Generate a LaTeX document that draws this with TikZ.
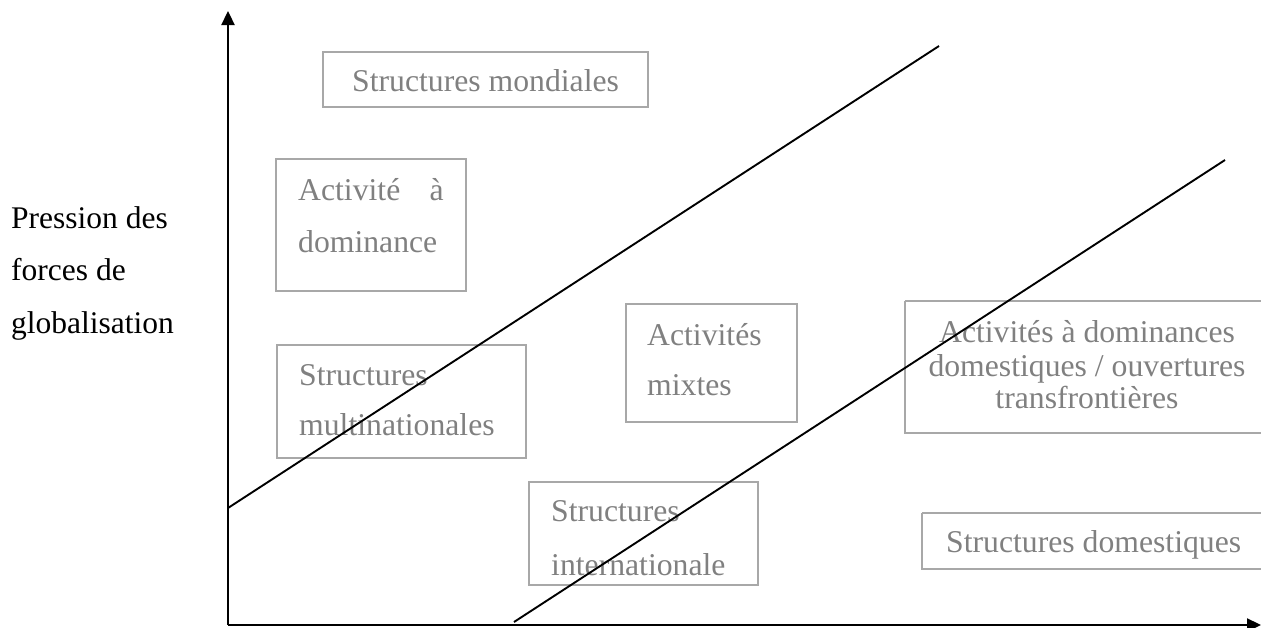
\documentclass[tikz,border=0pt]{standalone}
\usepackage{fontspec}
\setmainfont{Liberation Serif}
\usetikzlibrary{arrows.meta}
\definecolor{boxline}{HTML}{A8A8A8}
\definecolor{boxtext}{HTML}{808080}
\tikzset{
  framebox/.style={draw=boxline, line width=1.3pt, inner sep=0pt, rectangle},
  gtxt/.style={text=boxtext, inner sep=0pt, font=\fontsize{31.7}{33}\selectfont},
  btxt/.style={text=black, inner sep=0pt, font=\fontsize{31.5}{33}\selectfont},
  axisline/.style={line width=2.3pt, -{Triangle[length=14pt,width=13pt]}},
  diag/.style={line width=1.9pt}
}
\begin{document}
\begin{tikzpicture}[x=1pt,y=-1pt]
\useasboundingbox (0,0) rectangle (1261,627);
% boxes (corners)
\draw[framebox] (323,52) rectangle (648,107);
\node[inner sep=0pt] (bmond) at (485.5,79.5) {};
\draw[framebox] (276,159) rectangle (466,291);
\draw[framebox] (277,345) rectangle (526,458);
\draw[framebox] (626,304) rectangle (797,422);
\draw[framebox] (905,301) -- (1270,301) (905,301) -- (905,433) -- (1270,433);
\draw[framebox] (529,482) rectangle (758,585);
\draw[framebox] (922,513) -- (1270,513) (922,513) -- (922,569) -- (1270,569);
% texts
\node[gtxt, anchor=base west] (t1) at (352,91) {Structures mondiales};
\node[gtxt, anchor=base west] (t2a) at (298,200) {Activité};
\node[gtxt, anchor=base east] (t2b) at (444,200) {à};
\node[gtxt, anchor=base west] (t2c) at (298,252) {dominance};
\node[gtxt, anchor=base west] (t3a) at (299,385) {Structures};
\node[gtxt, anchor=base west] (t3b) at (299,435) {multinationales};
\node[gtxt, anchor=base west] (t4a) at (647,345) {Activités};
\node[gtxt, anchor=base west] (t4b) at (647,395) {mixtes};
\node[gtxt, anchor=base] (t5a) at (1087,342) {Activités à dominances};
\node[gtxt, anchor=base] (t5b) at (1087,376) {domestiques / ouvertures};
\node[gtxt, anchor=base] (t5c) at (1087,408) {transfrontières};
\node[gtxt, anchor=base west] (t6a) at (551,521) {Structures};
\node[gtxt, anchor=base west] (t6b) at (551,575) {internationale};
\node[gtxt, anchor=base west] (t7) at (946,552) {Structures domestiques};
% left label
\node[btxt, anchor=base west] (l1) at (11,228) {Pression des};
\node[btxt, anchor=base west] (l2) at (11,280) {forces de};
\node[btxt, anchor=base west] (l3) at (11,333) {globalisation};
% axes
\coordinate (o) at (228,625);
\coordinate (ytop) at (228,11);
\coordinate (xend) at (1261,625);
\draw[axisline] (o) -- (ytop);
\draw[axisline] (o) -- (xend);
% diagonals
\coordinate (d1a) at (228,508);
\coordinate (d1b) at (939,46);
\coordinate (d2a) at (514,622);
\coordinate (d2b) at (1225,160);
\draw[diag] (d1a) -- (d1b);
\draw[diag] (d2a) -- (d2b);
\end{tikzpicture}
\end{document}
